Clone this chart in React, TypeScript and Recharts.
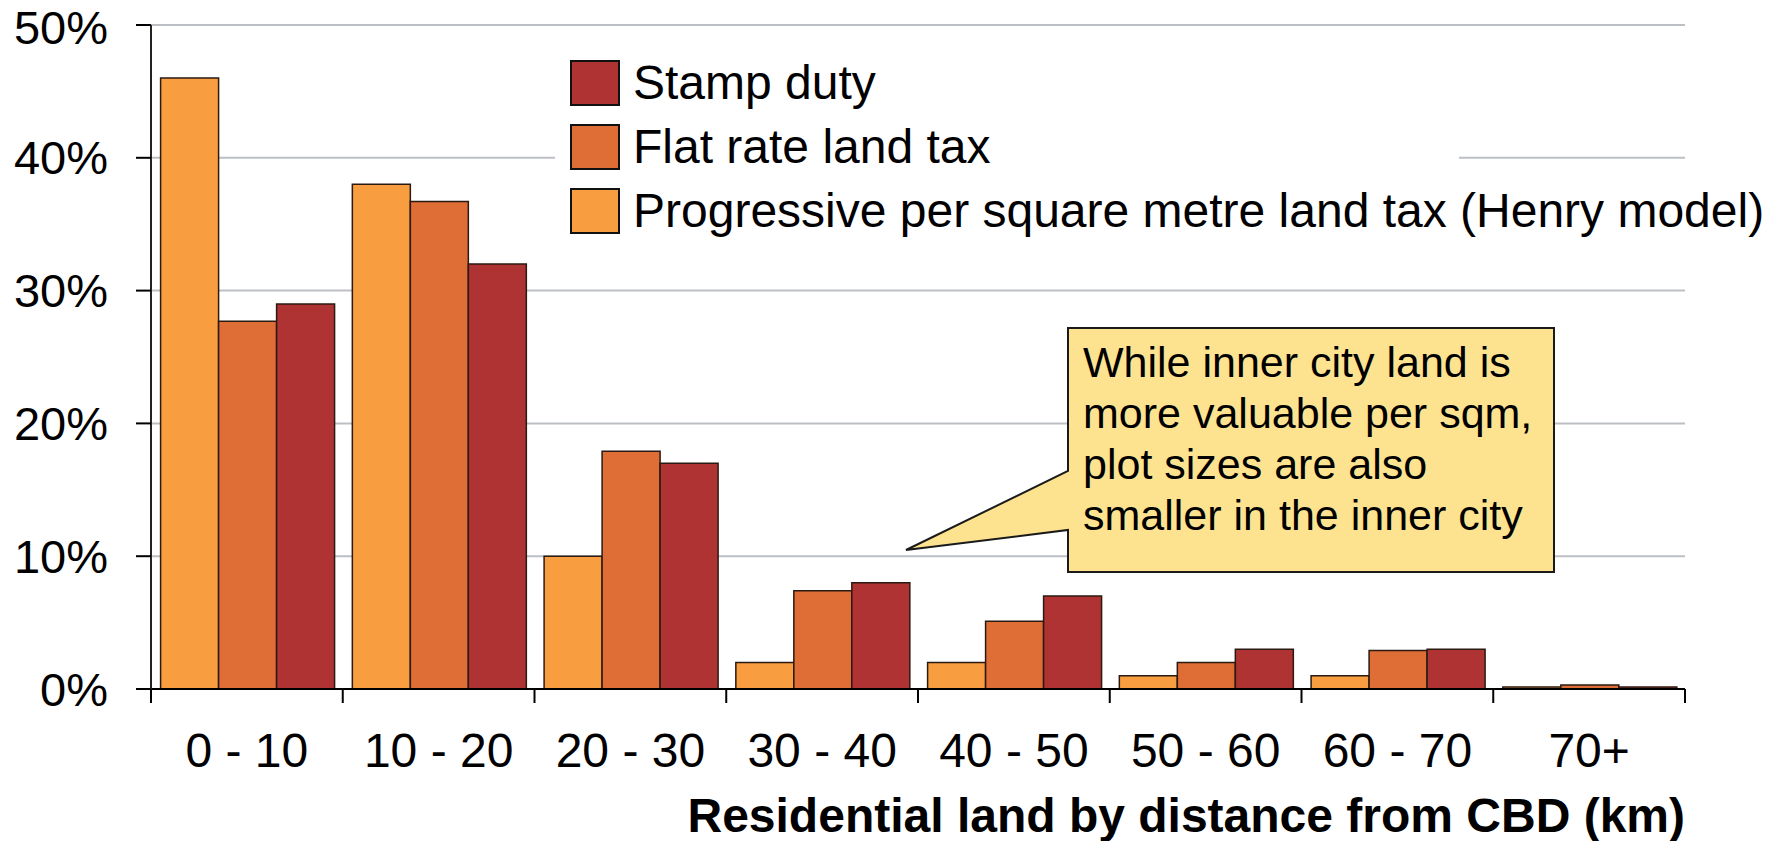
import React from 'react';
import { BarChart, Bar, XAxis, YAxis, CartesianGrid, Legend, Customized } from 'recharts';

const categories = ['0 - 10', '10 - 20', '20 - 30', '30 - 40', '40 - 50', '50 - 60', '60 - 70', '70+'];
const progressiveTax = [46, 38, 10, 2, 2, 1, 1, 0.15];
const flatRateTax = [27.7, 36.7, 17.9, 7.4, 5.1, 2, 2.9, 0.3];
const stampDuty = [29, 32, 17, 8, 7, 3, 3, 0.15];
const yTicks = [0, 10, 20, 30, 40, 50];
const calloutLines = [
  'While inner city land is',
  'more valuable per sqm,',
  'plot sizes are also',
  'smaller in the inner city',
];

const SERIES = [
  { key: 'progressive', name: 'Progressive per square metre land tax (Henry model)', color: '#F89D40' },
  { key: 'flat', name: 'Flat rate land tax', color: '#DF6D36' },
  { key: 'stamp', name: 'Stamp duty', color: '#B03333' },
];

const data = categories.map((range, i) => ({
  range,
  progressive: progressiveTax[i],
  flat: flatRateTax[i],
  stamp: stampDuty[i],
}));

const W = 1782;
const H = 841;
const LEFT = 151;
const RIGHT = 1685;
const TOP = 25;
const BOTTOM = 689;
const BAND = (RIGHT - LEFT) / categories.length;
const FONT = '"Liberation Sans", Arial, Helvetica, sans-serif';

// category ticks sit on the band boundaries, labels in the middle
const CategoryTick = (props: any) => {
  const { x, index, payload } = props;
  const half = BAND / 2;
  return (
    <g>
      <line x1={x - half} y1={BOTTOM} x2={x - half} y2={BOTTOM + 14} stroke="#000" strokeWidth={2} />
      {index === categories.length - 1 && (
        <line x1={x + half} y1={BOTTOM} x2={x + half} y2={BOTTOM + 14} stroke="#000" strokeWidth={2} />
      )}
      <text x={x} y={767} textAnchor="middle" fontSize={48} fill="#000" fontFamily={FONT}>
        {payload.value}
      </text>
    </g>
  );
};

// legend lists the series in reverse (stamp duty on top)
const LegendBox = () => {
  const items = [...SERIES].reverse();
  return (
    <div style={{ paddingLeft: 15, paddingTop: 6 }}>
      {items.map((it) => (
        <div key={it.key} style={{ display: 'flex', alignItems: 'center', height: 64 }}>
          <div
            style={{
              width: 46,
              height: 42,
              background: it.color,
              border: '2px solid #111',
              marginRight: 13,
              flexShrink: 0,
            }}
          />
          <span style={{ fontSize: 48, fontFamily: FONT, color: '#000', whiteSpace: 'nowrap', lineHeight: '46px' }}>
            {it.name}
          </span>
        </div>
      ))}
    </div>
  );
};

const Annotations = () => {
  const pts = [
    [1068, 328], [1554, 328], [1554, 572], [1068, 572], [1068, 530], [906, 550], [1068, 471],
  ].map((p) => p.join(',')).join(' ');
  return (
    <g fontFamily={FONT}>
      <polygon points={pts} fill="#FDE38F" stroke="#1a1a1a" strokeWidth={2} />
      {calloutLines.map((t, i) => (
        <text key={t} x={1083} y={377 + i * 51} fontSize={43} fill="#000">
          {t}
        </text>
      ))}
      <text x={RIGHT} y={832} textAnchor="end" fontSize={48} fontWeight="bold" fill="#000">
        Residential land by distance from CBD (km)
      </text>
    </g>
  );
};

export default function App() {
  return (
    <div style={{ position: 'absolute', left: 0, top: 0, width: W, height: H, background: '#fff' }}>
      <BarChart
        width={W}
        height={H}
        data={data}
        margin={{ top: TOP, right: W - RIGHT, bottom: 0, left: 0 }}
        barCategoryGap="5%"
        barGap={0}
      >
        <CartesianGrid horizontal vertical={false} stroke="#BCC0C4" strokeWidth={2} />
        <XAxis
          dataKey="range"
          height={H - BOTTOM}
          axisLine={{ stroke: '#000', strokeWidth: 2 }}
          tickLine={false}
          tick={<CategoryTick />}
          interval={0}
        />
        <YAxis
          width={LEFT}
          domain={[0, 50]}
          ticks={yTicks}
          tickFormatter={(v: number) => `${v}%`}
          axisLine={{ stroke: '#222', strokeWidth: 2 }}
          tickLine={{ stroke: '#000', strokeWidth: 2 }}
          tickSize={15}
          tickMargin={28}
          tick={{ fontSize: 47, fill: '#000', fontFamily: FONT }}
        />
        <Legend
          layout="vertical"
          align="center"
          verticalAlign="middle"
          content={<LegendBox />}
          wrapperStyle={{ left: 555, top: 45, width: 904, height: 205, background: '#fff' }}
        />
        {SERIES.map((s) => (
          <Bar
            key={s.key}
            dataKey={s.key}
            name={s.name}
            fill={s.color}
            stroke="#2b1a12"
            strokeWidth={1.5}
            isAnimationActive={false}
          />
        ))}
        <Customized component={<Annotations />} />
      </BarChart>
    </div>
  );
}
